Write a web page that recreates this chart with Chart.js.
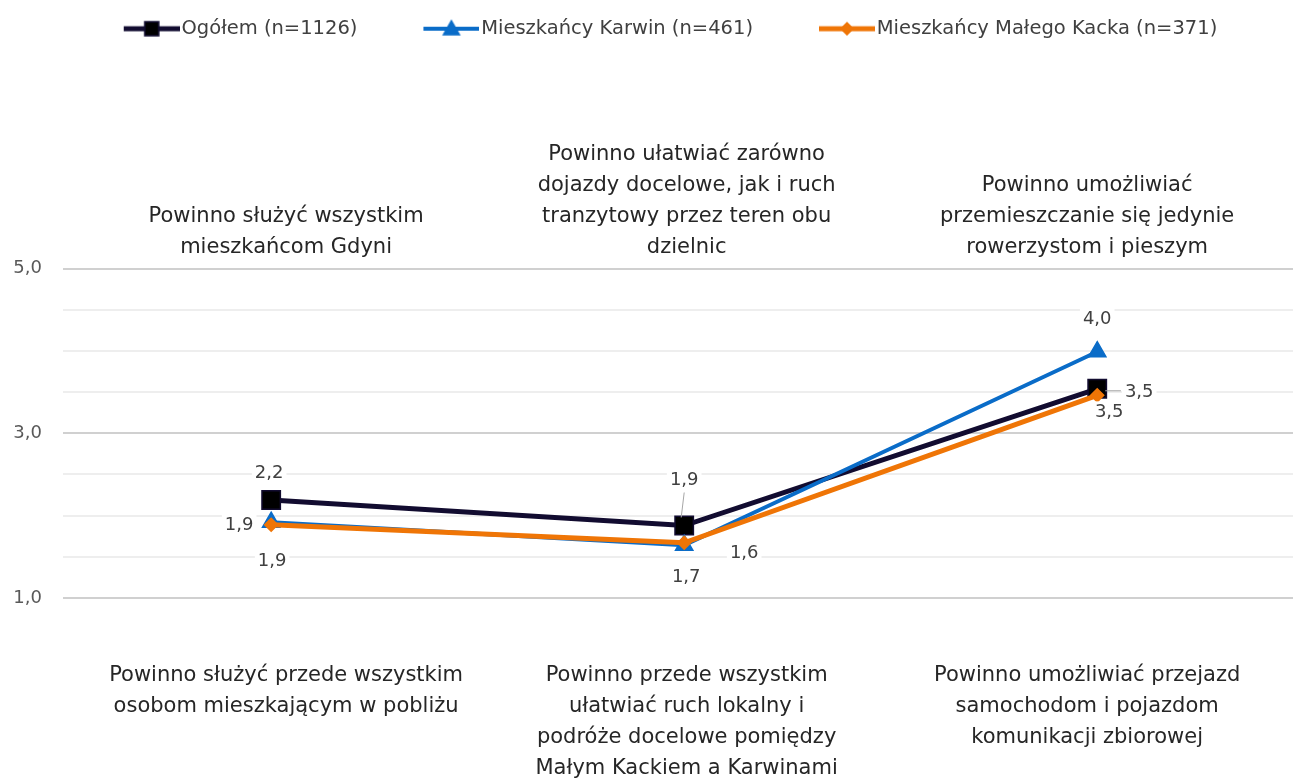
<!DOCTYPE html>
<html>
<head>
<meta charset="utf-8">
<script src="https://cdn.jsdelivr.net/npm/chart.js@4.4.0/dist/chart.umd.min.js"></script>
<style>
  html, body { margin: 0; background: #fff; overflow: hidden; }
  #wrap { width: 1293px; height: 780px; }
  canvas { display: block; }
</style>
</head>
<body>
<div id="wrap"><canvas id="chart"></canvas></div>
<script>
// dane
const categoriesTop = [
    ["Powinno służyć wszystkim", "mieszkańcom Gdyni"],
    ["Powinno ułatwiać zarówno", "dojazdy docelowe, jak i ruch", "tranzytowy przez teren obu", "dzielnic"],
    ["Powinno umożliwiać", "przemieszczanie się jedynie", "rowerzystom i pieszym"]
];
const categoriesBottom = [
    ["Powinno służyć przede wszystkim", "osobom mieszkającym w pobliżu"],
    ["Powinno przede wszystkim", "ułatwiać ruch lokalny i", "podróże docelowe pomiędzy", "Małym Kackiem a Karwinami"],
    ["Powinno umożliwiać przejazd", "samochodom i pojazdom", "komunikacji zbiorowej"]
];
const seriesNames = ["Ogółem (n=1126)", "Mieszkańcy Karwin (n=461)", "Mieszkańcy Małego Kacka (n=371)"];
const ogolem = [2.19, 1.88, 3.54];
const karwin = [1.92, 1.64, 3.99];
const kacka = [1.89, 1.67, 3.46];
const yTickValues = [1, 3, 5];
const yTickLabels = ["1,0", "3,0", "5,0"];

// wygląd
const lineColors = ["#120c30", "#0a6cc8", "#ef7506"];
const markerFill = ["#000000", "#0a6cc8", "#ef7506"];
const markerStyles = ["rect", "triangle", "rectRot"];
const markerRadius = [13, 10, 6.5];
const lineWidths = [5, 4, 5];
// przesunięcia etykiet [dx, dy, linia prowadząca]
const labelOffsets = [
    [[-2, -27, false], [0, -45, true], [42, 4, true]],
    [[-32, 3, false], [60, 8, false], [0, -32, false]],
    [[1, 37, false], [2, 35, false], [12, 17, false]]
];

function pts(values) {
    return values.map((v, i) => ({ x: i, y: v }));
}

// ikona legendy: lewa część przezroczysta (odstęp), potem linia z markerem
const ICON_W = 112, ICON_BOX = 96, ICON_LINE_FROM = 56;
function legendIcon(i) {
    const c = document.createElement('canvas');
    c.width = ICON_W; c.height = 20;
    const g = c.getContext('2d');
    const mid = (ICON_LINE_FROM + ICON_W) / 2;
    g.strokeStyle = lineColors[i];
    g.lineWidth = lineWidths[i];
    g.beginPath(); g.moveTo(ICON_LINE_FROM, 10); g.lineTo(ICON_W, 10); g.stroke();
    g.fillStyle = markerFill[i];
    g.strokeStyle = lineColors[i];
    g.lineWidth = 1.5;
    g.beginPath();
    if (i === 0) {
        g.rect(mid - 7, 3, 14, 14);
    } else if (i === 1) {
        g.moveTo(mid, 2); g.lineTo(mid + 8, 16); g.lineTo(mid - 8, 16); g.closePath();
    } else {
        g.moveTo(mid, 4); g.lineTo(mid + 6, 10); g.lineTo(mid, 16); g.lineTo(mid - 6, 10); g.closePath();
    }
    g.fill(); g.stroke();
    return c;
}

const valueLabels = {
    id: 'valueLabels',
    afterDatasetsDraw(chart) {
        const ctx = chart.ctx;
        ctx.save();
        ctx.font = '18px "DejaVu Sans"';
        ctx.textAlign = 'center';
        ctx.textBaseline = 'middle';
        chart.data.datasets.forEach((ds, di) => {
            const meta = chart.getDatasetMeta(di);
            meta.data.forEach((el, j) => {
                const off = labelOffsets[di][j];
                const txt = ds.data[j].y.toFixed(1).replace('.', ',');
                const x = el.x + off[0];
                const y = el.y + off[1];
                const w = ctx.measureText(txt).width;
                if (off[2]) {
                    ctx.strokeStyle = '#a6a6a6';
                    ctx.lineWidth = 1;
                    ctx.beginPath();
                    if (Math.abs(off[1]) > Math.abs(off[0])) {
                        ctx.moveTo(x, y + 12); ctx.lineTo(el.x - 3, el.y - 8);
                    } else {
                        ctx.moveTo(el.x + 8, el.y + 2); ctx.lineTo(x - w / 2 - 4, el.y + 2);
                    }
                    ctx.stroke();
                }
                ctx.fillStyle = '#ffffff';
                ctx.fillRect(x - w / 2 - 3, y - 11, w + 6, 22);
                ctx.fillStyle = '#404040';
                ctx.fillText(txt, x, y);
            });
        });
        ctx.restore();
    }
};

const allSeries = [ogolem, karwin, kacka];
const datasets = allSeries.map((vals, i) => ({
    label: seriesNames[i],
    data: pts(vals),
    borderColor: lineColors[i],
    backgroundColor: markerFill[i],
    borderWidth: lineWidths[i],
    pointStyle: markerStyles[i],
    pointRadius: markerRadius[i],
    pointBorderColor: lineColors[i],
    pointBackgroundColor: markerFill[i],
    pointBorderWidth: 1.5,
    order: 3 - i,
    tension: 0
}));

// skala punktów i skala opisów kategorii
const xMin = -0.504, xMax = 2.474;
const labMin = -0.557, labMax = 2.514;
function setCatTicks(axis) {
    axis.ticks = categoriesTop.map((c, i) => ({ value: i }));
}
function noPad(scale) {
    scale.paddingLeft = 0;
    scale.paddingRight = 0;
}

const catFont = { family: 'DejaVu Sans', size: 21, lineHeight: '31px' };

new Chart(document.getElementById('chart'), {
    type: 'line',
    data: { datasets: datasets },
    options: {
        responsive: true,
        maintainAspectRatio: false,
        animation: false,
        layout: { autoPadding: false, padding: { top: 1, right: 0, left: 0, bottom: 0 } },
        plugins: {
            legend: {
                position: 'top',
                labels: {
                    usePointStyle: true,
                    pointStyleWidth: ICON_BOX,
                    padding: 18,
                    color: '#404040',
                    font: { family: 'DejaVu Sans', size: 19.5 },
                    generateLabels(chart) {
                        return chart.data.datasets.map((ds, i) => ({
                            text: ds.label,
                            pointStyle: legendIcon(i),
                            fillStyle: ds.borderColor,
                            strokeStyle: ds.borderColor,
                            lineWidth: 0,
                            datasetIndex: i,
                            fontColor: '#404040'
                        }));
                    }
                }
            },
            tooltip: { enabled: false }
        },
        scales: {
            x: {
                type: 'linear',
                position: 'bottom',
                weight: 1,
                min: xMin, max: xMax,
                afterFit(scale) { scale.height = 0; noPad(scale); },
                grid: { display: false, drawTicks: false },
                border: { display: false },
                ticks: { display: false }
            },
            xLabBottom: {
                type: 'linear',
                position: 'bottom',
                weight: 0,
                min: labMin, max: labMax,
                afterBuildTicks: setCatTicks,
                afterFit(scale) { scale.height = 182; noPad(scale); },
                grid: { display: false, drawTicks: false },
                border: { display: false },
                ticks: {
                    padding: 62,
                    maxRotation: 0,
                    autoSkip: false,
                    color: '#262626',
                    font: catFont,
                    callback: (v) => categoriesBottom[v]
                }
            },
            xTop: {
                type: 'linear',
                position: 'top',
                min: labMin, max: labMax,
                afterBuildTicks: setCatTicks,
                afterFit(scale) { scale.height = 220; noPad(scale); },
                grid: { display: false, drawTicks: false },
                border: { display: false },
                ticks: {
                    padding: 5,
                    maxRotation: 0,
                    autoSkip: false,
                    color: '#262626',
                    font: catFont,
                    callback: (v) => categoriesTop[v]
                }
            },
            y: {
                min: 1, max: 5,
                afterFit(scale) { scale.width = 63; scale.paddingTop = 0; scale.paddingBottom = 0; },
                border: { display: false },
                grid: {
                    drawTicks: false,
                    color: (c) => yTickValues.includes(c.tick.value) ? '#d0d0d0' : '#eeeeee',
                    lineWidth: 2
                },
                ticks: {
                    stepSize: 0.5,
                    padding: 21,
                    color: '#595959',
                    font: { family: 'DejaVu Sans', size: 18 },
                    callback: (v) => {
                        const k = yTickValues.indexOf(v);
                        return k >= 0 ? yTickLabels[k] : '';
                    }
                }
            }
        }
    },
    plugins: [valueLabels]
});
</script>
</body>
</html>
